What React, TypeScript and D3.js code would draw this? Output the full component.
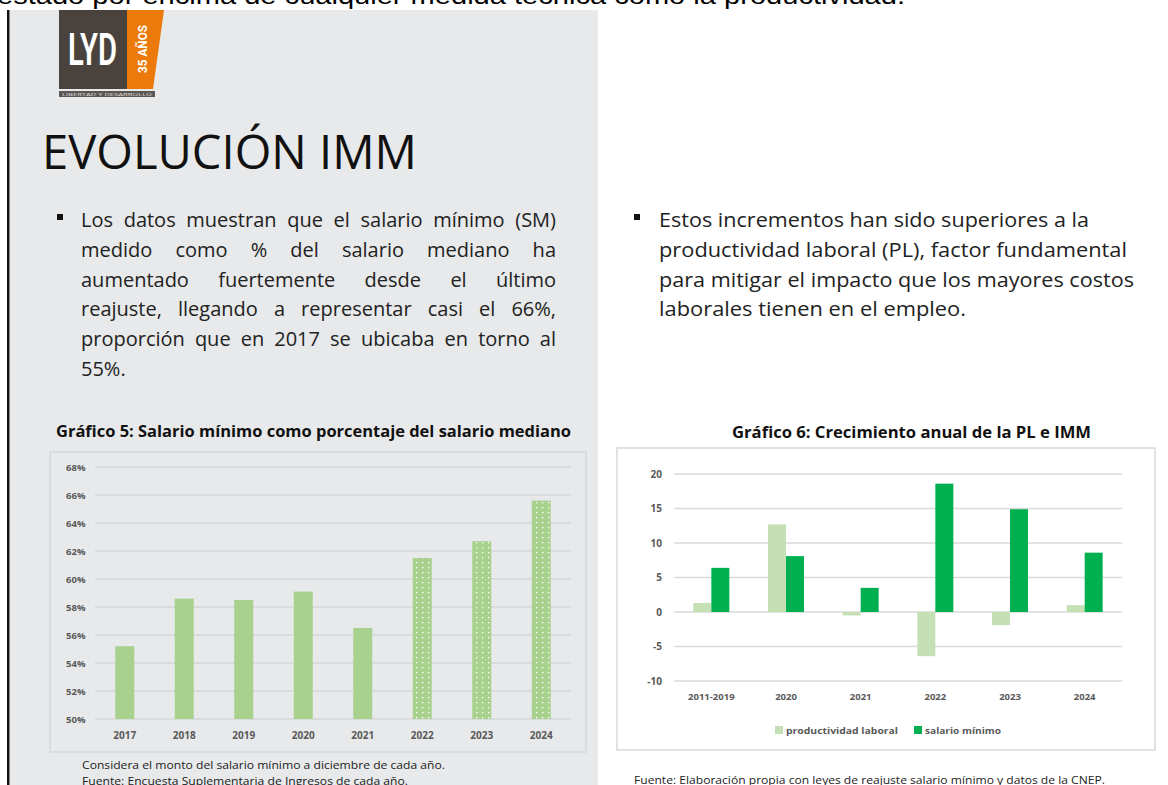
import React from "react";
import * as d3 from "d3";

// Gráfico 5
const years5 = ["2017", "2018", "2019", "2020", "2021", "2022", "2023", "2024"];
const smShare = [55.2, 58.6, 58.5, 59.1, 56.5, 61.5, 62.7, 65.6];
const dottedFrom = 2022;
const ticks5 = [50, 52, 54, 56, 58, 60, 62, 64, 66, 68];

// Gráfico 6
const periods6 = ["2011-2019", "2020", "2021", "2022", "2023", "2024"];
const productividad = [1.3, 12.7, -0.5, -6.4, -1.9, 1.0];
const salarioMinimo = [6.4, 8.1, 3.5, 18.6, 14.9, 8.6];
const ticks6 = [20, 15, 10, 5, 0, -5, -10];

const leftLines = [
  "Los datos muestran que el salario mínimo (SM)",
  "medido como % del salario mediano ha",
  "aumentado fuertemente desde el último",
  "reajuste, llegando a representar casi el 66%,",
  "proporción que en 2017 se ubicaba en torno al",
  "55%.",
];
const rightLines = [
  "Estos incrementos han sido superiores a la",
  "productividad laboral (PL), factor fundamental",
  "para mitigar el impacto que los mayores costos",
  "laborales tienen en el empleo.",
];
const rightWidths = [430, 468, 475, 307];

const FONT = "'Open Sans', 'Noto Sans', sans-serif";
const PANEL = "#e7e9ea";
const LIGHT = "#a9d18e";
const PL_COLOR = "#c5e0b4";
const SM_COLOR = "#00b050";
const AXIS_TXT = "#595959";

let ctx: CanvasRenderingContext2D | null = null;
function measure(s: string, font: string) {
  if (!ctx) ctx = document.createElement("canvas").getContext("2d");
  if (!ctx) return s.length * 9;
  ctx.font = font;
  return ctx.measureText(s).width;
}

// justificado: reparte el espacio sobrante entre las palabras
function justifiedSpacing(s: string, width: number) {
  const natural = measure(s, "20px 'Open Sans'");
  const gaps = s.split(" ").length - 1;
  return gaps > 0 ? (width - natural) / gaps : 0;
}

function Chart5() {
  const x = d3.scaleBand().domain(years5).range([95, 571]);
  const y = d3.scaleLinear().domain([50, 68]).range([719, 467]);
  const bw = 19;
  return (
    <g>
      <defs>
        <pattern id="dots" width="6" height="5" patternUnits="userSpaceOnUse">
          <rect width="6" height="5" fill={LIGHT} />
          <rect x="2" y="2" width="1.3" height="1.3" fill="#ffffff" />
        </pattern>
      </defs>
      <rect x={50} y={452} width={536} height={300} fill={PANEL} stroke="#d6d9da" strokeWidth={1.5} />
      {ticks5.map((t) => (
        <g key={t}>
          <line x1={95} x2={571} y1={y(t)} y2={y(t)} stroke="#d4d6d7" strokeWidth={1.3} />
          <text x={66} y={y(t) + 3.5} fontFamily={FONT} fontSize={9.5} fontWeight={700} fill={AXIS_TXT}>
            {t}%
          </text>
        </g>
      ))}
      {years5.map((yr, i) => {
        const cx = (x(yr) as number) + x.bandwidth() / 2;
        return (
          <g key={yr}>
            <rect
              x={cx - bw / 2}
              y={y(smShare[i])}
              width={bw}
              height={y(50) - y(smShare[i])}
              fill={+yr >= dottedFrom ? "url(#dots)" : LIGHT}
            />
            <text x={cx} y={739} textAnchor="middle" fontFamily={FONT} fontSize={10} fontWeight={700} fill={AXIS_TXT}>
              {yr}
            </text>
          </g>
        );
      })}
    </g>
  );
}

function Chart6() {
  const x0 = d3.scaleBand().domain(periods6).range([674, 1122]);
  const y = d3.scaleLinear().domain([-10, 20]).range([681, 474]);
  const bw = 18;
  return (
    <g>
      <rect x={617} y={448} width={538} height={302} fill="#ffffff" stroke="#d9d9d9" strokeWidth={1.5} />
      {ticks6.map((t) => (
        <g key={t}>
          <line x1={674} x2={1122} y1={y(t)} y2={y(t)} stroke="#d9d9d9" strokeWidth={1.3} />
          <text x={662} y={y(t) + 3.5} textAnchor="end" fontFamily={FONT} fontSize={10} fontWeight={700} fill={AXIS_TXT}>
            {t}
          </text>
        </g>
      ))}
      {periods6.map((p, i) => {
        const cx = (x0(p) as number) + x0.bandwidth() / 2;
        const pl = productividad[i];
        const sm = salarioMinimo[i];
        return (
          <g key={p}>
            <rect x={cx - bw} y={y(Math.max(0, pl))} width={bw} height={Math.abs(y(pl) - y(0))} fill={PL_COLOR} />
            <rect x={cx} y={y(Math.max(0, sm))} width={bw} height={Math.abs(y(sm) - y(0))} fill={SM_COLOR} />
            <text x={cx} y={700} textAnchor="middle" fontFamily={FONT} fontSize={9.5} fontWeight={700} fill={AXIS_TXT}>
              {p}
            </text>
          </g>
        );
      })}
      <rect x={775} y={726} width={8} height={8} fill={PL_COLOR} />
      <text x={786} y={734} fontFamily={FONT} fontSize={9.5} fontWeight={700} fill={AXIS_TXT} textLength={112} lengthAdjust="spacingAndGlyphs">
        productividad laboral
      </text>
      <rect x={914} y={726} width={8} height={8} fill={SM_COLOR} />
      <text x={925} y={734} fontFamily={FONT} fontSize={9.5} fontWeight={700} fill={AXIS_TXT} textLength={76} lengthAdjust="spacingAndGlyphs">
        salario mínimo
      </text>
    </g>
  );
}

export default function App() {
  return (
    <svg width={1168} height={785} style={{ position: "absolute", left: 0, top: 0, background: "#fff" }}>
      <rect width={1168} height={785} fill="#ffffff" />
      <text x={-3} y={4} fontFamily="'Liberation Sans', Arial, sans-serif" fontSize={24} fill="#000" textLength={908} lengthAdjust="spacingAndGlyphs">
        estado por encima de cualquier medida técnica como la productividad.
      </text>
      <rect x={10} y={10} width={588} height={775} fill={PANEL} />
      <rect x={7} y={10} width={2.5} height={775} fill="#111" />

      {/* logo */}
      <rect x={59} y={10} width={68} height={79} fill="#4a433d" />
      <polygon points="127,10 164,10 153,89 127,89" fill="#ec7a0b" />
      <text x={92.5} y={65} textAnchor="middle" fontFamily="'Liberation Sans Narrow', 'Roboto', sans-serif" fontWeight={600} fontSize={45} fill="#fff" textLength={49} lengthAdjust="spacingAndGlyphs">
        LYD
      </text>
      <text transform="translate(147,49) rotate(-90)" textAnchor="middle" fontFamily="'Roboto', sans-serif" fontWeight={700} fontSize={13} fill="#fff" textLength={48} lengthAdjust="spacingAndGlyphs">
        35 AÑOS
      </text>
      <rect x={59} y={91} width={96} height={6} fill="#5c5753" />
      <text x={107} y={95.5} textAnchor="middle" fontFamily={FONT} fontSize={4} fill="#ddd" textLength={90} lengthAdjust="spacingAndGlyphs">
        LIBERTAD Y DESARROLLO
      </text>

      <text x={42} y={169} fontFamily={FONT} fontSize={48} fill="#111" textLength={375} lengthAdjust="spacingAndGlyphs">
        EVOLUCIÓN IMM
      </text>

      <rect x={57} y={214} width={6} height={6} fill="#111" />
      {leftLines.map((l, i) => (
        <text
          key={i}
          x={81}
          y={227 + i * 29.8}
          fontFamily={FONT}
          fontSize={20}
          fill="#222"
          wordSpacing={i < 5 ? justifiedSpacing(l, 475) : 0}
        >
          {l}
        </text>
      ))}

      <rect x={634} y={214} width={6} height={6} fill="#111" />
      {rightLines.map((l, i) => (
        <text key={i} x={659} y={227 + i * 29.8} fontFamily={FONT} fontSize={20} fill="#222" textLength={rightWidths[i]} lengthAdjust="spacingAndGlyphs">
          {l}
        </text>
      ))}

      <text x={56} y={437} fontFamily={FONT} fontWeight={700} fontSize={16} fill="#111" textLength={515} lengthAdjust="spacingAndGlyphs">
        Gráfico 5: Salario mínimo como porcentaje del salario mediano
      </text>
      <text x={732} y={438} fontFamily={FONT} fontWeight={700} fontSize={16} fill="#111" textLength={359} lengthAdjust="spacingAndGlyphs">
        Gráfico 6: Crecimiento anual de la PL e IMM
      </text>

      <Chart5 />
      <Chart6 />

      <text x={82} y={769} fontFamily={FONT} fontSize={11} fill="#222" textLength={363} lengthAdjust="spacingAndGlyphs">
        Considera el monto del salario mínimo a diciembre de cada año.
      </text>
      <text x={82} y={785} fontFamily={FONT} fontSize={11} fill="#222" textLength={326} lengthAdjust="spacingAndGlyphs">
        Fuente: Encuesta Suplementaria de Ingresos de cada año.
      </text>
      <text x={634} y={784} fontFamily={FONT} fontSize={11} fill="#222" textLength={471} lengthAdjust="spacingAndGlyphs">
        Fuente: Elaboración propia con leyes de reajuste salario mínimo y datos de la CNEP.
      </text>
    </svg>
  );
}
